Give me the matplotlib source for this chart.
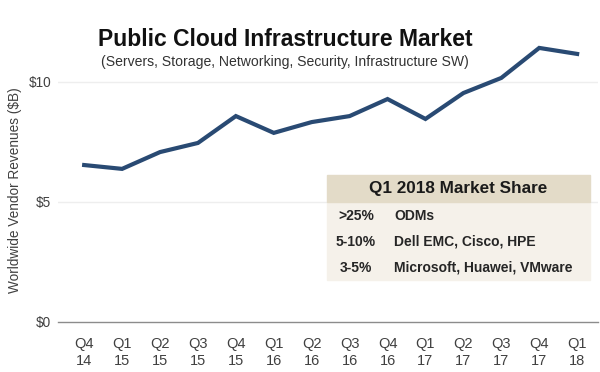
import matplotlib
matplotlib.use("Agg")
import matplotlib.pyplot as plt

# values, $B
quarters = ["Q4\n14", "Q1\n15", "Q2\n15", "Q3\n15", "Q4\n15", "Q1\n16", "Q2\n16",
            "Q3\n16", "Q4\n16", "Q1\n17", "Q2\n17", "Q3\n17", "Q4\n17", "Q1\n18"]
revenue = [6.54, 6.38, 7.08, 7.46, 8.58, 7.88, 8.33, 8.58, 9.29, 8.46, 9.54, 10.17, 11.42, 11.17]
yticks = [0, 5, 10]
ytick_labels = ["$0", "$5", "$10"]

share_title = "Q1 2018 Market Share"
share_pct = [">25%", "5-10%", "3-5%"]
share_vendors = ["ODMs", "Dell EMC, Cisco, HPE", "Microsoft, Huawei, VMware"]

narrow = ["Liberation Sans Narrow", "Liberation Sans", "DejaVu Sans"]
plt.rcParams["font.family"] = ["Liberation Sans", "DejaVu Sans"]

fig = plt.figure(figsize=(6, 3.72), dpi=100)
ax = fig.add_axes([58 / 600, 50 / 372, 540 / 600, 300 / 372])

x = list(range(len(quarters)))
ax.plot(x, revenue, color="#294A73", lw=3.0, solid_joinstyle="miter", zorder=3)

ax.set_ylim(0, 12.5)
ax.set_xlim(-0.69, 13.55)
ax.set_yticks(yticks)
ax.set_yticklabels(ytick_labels, family=narrow, fontsize=9.8, color="#404040")
ax.set_xticks(x)
ax.set_xticklabels(quarters, family=narrow, fontsize=10.5, color="#404040", linespacing=1.25)
ax.tick_params(length=0)
ax.tick_params(axis="x", pad=11)
ax.tick_params(axis="y", pad=5)
for s in ["top", "right", "left"]:
    ax.spines[s].set_visible(False)
ax.spines["bottom"].set_color("#8c8c8c")
ax.spines["bottom"].set_linewidth(1.0)
for v in yticks[1:]:
    ax.axhline(v, color="#eeeeee", lw=1.0, zorder=1)

ax.set_ylabel("Worldwide Vendor Revenues ($B)", family=narrow, fontsize=9.8, color="#404040")
ax.yaxis.set_label_coords((22 - 58) / 540, (322 - 190) / 300)

fig.text(285 / 600, 1 - 40 / 372, "Public Cloud Infrastructure Market", ha="center", va="center",
         fontsize=16.5, fontweight="bold", color="#111111")
fig.text(285 / 600, 1 - 62 / 372, "(Servers, Storage, Networking, Security, Infrastructure SW)",
         ha="center", va="center", fontsize=10.1, family=narrow, color="#333333")

# market share box
bx0, bx1, by0, by1, hy = 327, 590, 175, 280, 202
fig.patches.append(plt.Rectangle((bx0 / 600, 1 - by1 / 372), (bx1 - bx0) / 600, (by1 - hy) / 372,
                                 transform=fig.transFigure, color="#F5F1EA", zorder=5))
fig.patches.append(plt.Rectangle((bx0 / 600, 1 - hy / 372), (bx1 - bx0) / 600, (hy - by0) / 372,
                                 transform=fig.transFigure, color="#E3DBC8", zorder=5))
fig.text((bx0 + bx1) / 2 / 600, 1 - 189 / 372, share_title, ha="center", va="center",
         fontsize=12.3, fontweight="bold", color="#1a1a1a", zorder=6)
row_y = [216, 242, 268]
for yy, pct, vend in zip(row_y, share_pct, share_vendors):
    fig.text(356 / 600, 1 - yy / 372, pct, ha="center", va="center", fontsize=10,
             fontweight="bold", color="#262626", zorder=6)
    fig.text(394 / 600, 1 - yy / 372, vend, ha="left", va="center", fontsize=10,
             fontweight="bold", color="#262626", zorder=6)

fig.savefig("out.png", dpi=100, facecolor="white")
